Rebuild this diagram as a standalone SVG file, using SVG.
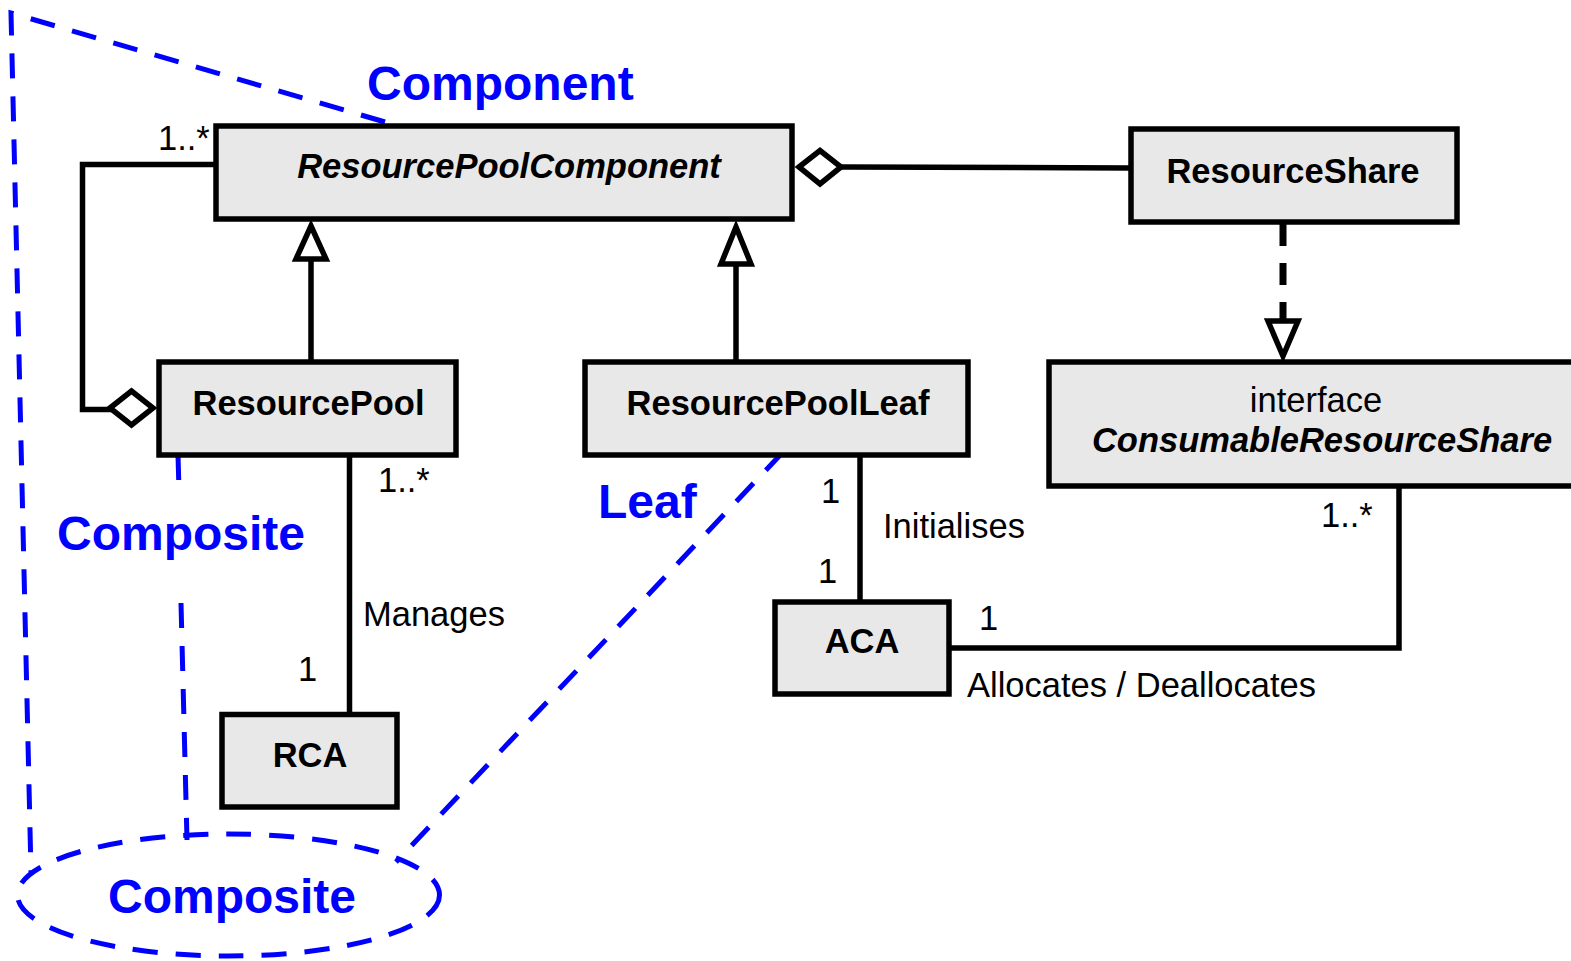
<svg xmlns="http://www.w3.org/2000/svg" width="1571" height="961" viewBox="0 0 1571 961">
<style>
.box{fill:#e8e8e8;stroke:#000;stroke-width:5.5}
.ln{fill:none;stroke:#000;stroke-width:5.5}
.head{fill:#fff;stroke:#000;stroke-width:5.5;stroke-linejoin:miter}
.dep{fill:none;stroke:#000;stroke-width:7;stroke-dasharray:22 17}
.blue{fill:none;stroke:#0000ff;stroke-width:5;stroke-dasharray:25 18}
.t{font-family:"Liberation Sans",Arial,sans-serif;font-size:34.5px;fill:#000}
.b{font-weight:bold}
.i{font-style:italic}
.m{text-anchor:middle}
.lbl{font-family:"Liberation Sans",Arial,sans-serif;font-size:48px;font-weight:bold;fill:#0000ff}
</style>
<rect width="1571" height="961" fill="#fff"/>
<g id="connectors">
<path class="ln" d="M216,164.5 H82.5 V409.5 H112"/>
<polygon class="head" points="110,408 131.5,391 153,408 131.5,425"/>
<path class="ln" d="M842,167 L1131,168"/>
<polygon class="head" points="799,167 820,150.5 841,167 820,184"/>
<path class="ln" d="M311,259 V362"/>
<polygon class="head" points="311,226 296,259 326,259"/>
<path class="ln" d="M736,264 V362"/>
<polygon class="head" points="736,227 721,264 751,264"/>
<path class="dep" d="M1283,224 V321"/>
<polygon class="head" points="1268,321 1298,321 1283,356"/>
<path class="ln" d="M349.5,455 V714"/>
<path class="ln" d="M860,455 V602"/>
<path class="ln" d="M949,648 H1399 V486"/>
</g>
<g id="overlay">
<path class="blue" d="M385,122 L11,13 L31,872"/>
<path class="blue" d="M178,455 L179,490"/>
<path class="blue" d="M181,603 L187,840"/>
<path class="blue" d="M783,452 L396,862"/>
<ellipse class="blue" cx="228.5" cy="895" rx="211" ry="61"/>
</g>
<g id="node-rpc">
<rect class="box" x="216" y="126" width="576" height="93"/>
<text class="t b i m" x="509" y="178">ResourcePoolComponent</text>
</g>
<g id="node-share">
<rect class="box" x="1131" y="129" width="326" height="93"/>
<text class="t b m" x="1293" y="183">ResourceShare</text>
</g>
<g id="node-pool">
<rect class="box" x="159" y="362" width="297" height="93"/>
<text class="t b m" x="308.5" y="415">ResourcePool</text>
</g>
<g id="node-leaf">
<rect class="box" x="585" y="362" width="383" height="93"/>
<text class="t b m" x="778" y="415">ResourcePoolLeaf</text>
</g>
<g id="node-iface">
<rect class="box" x="1049" y="362" width="560" height="124"/>
<text class="t m" x="1316" y="412">interface</text>
<text class="t b i m" x="1322" y="452">ConsumableResourceShare</text>
</g>
<g id="node-rca">
<rect class="box" x="222" y="714.5" width="175" height="92.5"/>
<text class="t b m" x="310" y="767">RCA</text>
</g>
<g id="node-aca">
<rect class="box" x="775" y="602" width="174" height="92"/>
<text class="t b m" x="862" y="653">ACA</text>
</g>
<g id="labels">
<text class="t" x="158" y="150">1..*</text>
<text class="t" x="378" y="492">1..*</text>
<text class="t" x="363" y="626">Manages</text>
<text class="t" x="298" y="681">1</text>
<text class="t" x="821" y="503">1</text>
<text class="t" x="883" y="538">Initialises</text>
<text class="t" x="818" y="583">1</text>
<text class="t" x="979" y="630">1</text>
<text class="t" x="1321" y="527">1..*</text>
<text class="t" x="967" y="697">Allocates / Deallocates</text>
<text class="lbl" x="367" y="100">Component</text>
<text class="lbl" x="57" y="550">Composite</text>
<text class="lbl" x="598" y="518">Leaf</text>
<text class="lbl" x="108" y="913">Composite</text>
</g>
</svg>
